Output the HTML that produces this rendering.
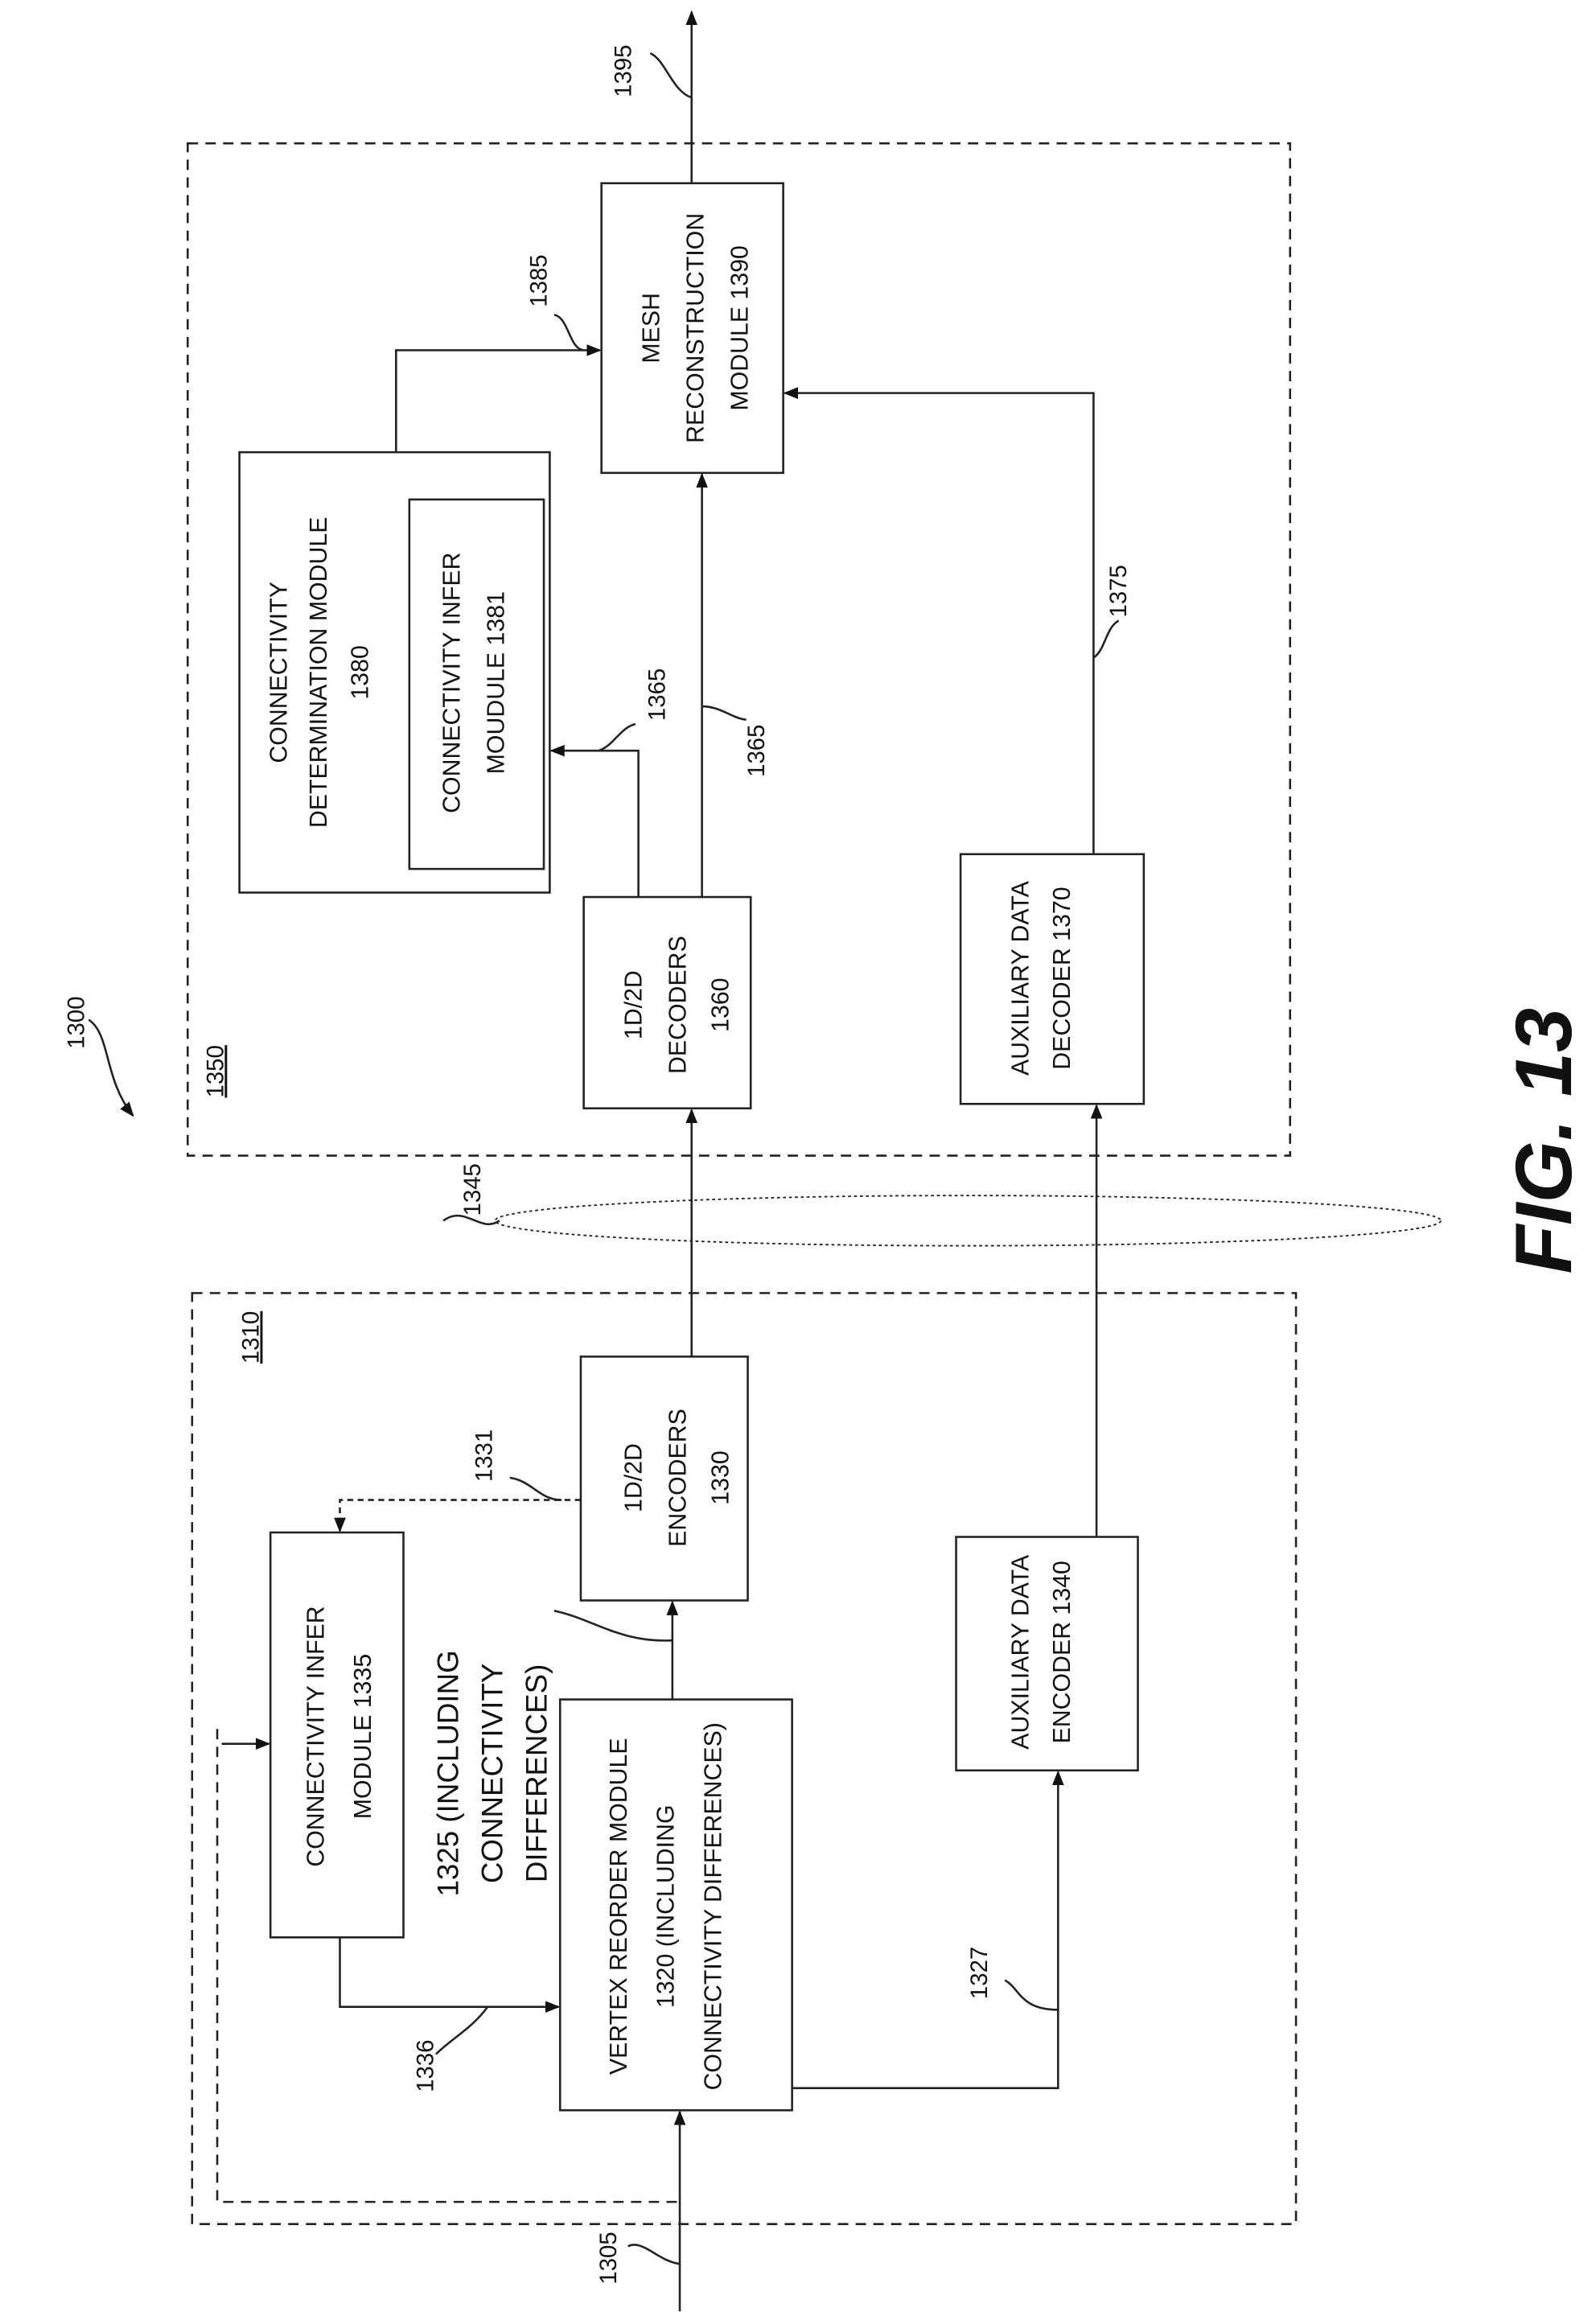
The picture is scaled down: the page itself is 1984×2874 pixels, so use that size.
<!DOCTYPE html>
<html><head><meta charset="utf-8"><style>
html,body{margin:0;padding:0;background:#fff}
svg{display:block}
text{font-family:"Liberation Sans",sans-serif;font-size:16.5px;fill:#111;text-anchor:middle}
text.l{font-size:16px}
</style></head><body>
<svg width="1984" height="2874" viewBox="0 0 1080 1564.5" xmlns="http://www.w3.org/2000/svg">
<defs><marker id="a" markerWidth="10" markerHeight="10" refX="9" refY="5" orient="auto" markerUnits="userSpaceOnUse"><path d="M0,1 L10,5 L0,9 Z" fill="#111"/></marker></defs>
<g fill="none" stroke="#222" stroke-width="1.4">
<rect x="127" y="97" width="746" height="685" stroke-dasharray="7,5"/>
<rect x="130" y="875" width="747" height="630" stroke-dasharray="7,5"/>
<rect x="407" y="124" width="123" height="196"/>
<rect x="162" y="306" width="210" height="298"/>
<rect x="277" y="338" width="91" height="250"/>
<rect x="395" y="607" width="113" height="143"/>
<rect x="650" y="578" width="124" height="169"/>
<rect x="393" y="918" width="113" height="165"/>
<rect x="183" y="1037" width="90" height="274"/>
<rect x="379" y="1150" width="157" height="278"/>
<rect x="647" y="1040" width="123" height="158"/>
<line x1="468" y1="124" x2="468" y2="8" marker-end="url(#a)"/>
<polyline points="268,306 268,237 406,237" marker-end="url(#a)"/>
<line x1="475" y1="607" x2="475" y2="321" marker-end="url(#a)"/>
<polyline points="432,607 432,508 373,508" marker-end="url(#a)"/>
<polyline points="740,578 740,266 531,266" marker-end="url(#a)"/>
<line x1="468" y1="918" x2="468" y2="751" marker-end="url(#a)"/>
<line x1="742" y1="1040" x2="742" y2="748" marker-end="url(#a)"/>
<ellipse cx="655" cy="826" rx="320" ry="17" stroke-dasharray="2,2" stroke-width="1"/>
<line x1="455" y1="1150" x2="455" y2="1084" marker-end="url(#a)"/>
<polyline points="393,1015 230,1015 230,1036" stroke-dasharray="4,3" marker-end="url(#a)"/>
<polyline points="230,1311 230,1358 378,1358" marker-end="url(#a)"/>
<polyline points="536,1413 716,1413 716,1199" marker-end="url(#a)"/>
<line x1="460" y1="1564" x2="460" y2="1429" marker-end="url(#a)"/>
<polyline points="147,1170 147,1490 460,1490" stroke-dasharray="7,5"/>
<line x1="150" y1="1180" x2="182" y2="1180" marker-end="url(#a)"/>
<path d="M440,36 C450,40 455,62 468,66"/>
<path d="M375,213 C385,215 385,236 395,237"/>
<path d="M430,490 C420,492 415,505 405,508"/>
<path d="M505,487 C495,486 488,478 475,478"/>
<path d="M757,420 C748,425 748,440 740,445"/>
<path d="M60,690 C75,700 70,730 90,755" marker-end="url(#a)"/>
<path d="M300,826 C315,815 325,835 338,826"/>
<path d="M345,1000 C360,1002 365,1015 380,1015"/>
<path d="M375,1090 C400,1095 420,1112 455,1110"/>
<path d="M295,1390 C305,1380 320,1372 330,1358"/>
<path d="M680,1340 C690,1345 690,1360 716,1360"/>
<path d="M425,1520 C435,1515 445,1530 460,1532"/>
</g>
<g>
<text transform="translate(440,222) rotate(-90)" dy="6">MESH</text>
<text transform="translate(470,222) rotate(-90)" dy="6">RECONSTRUCTION</text>
<text transform="translate(500,222) rotate(-90)" dy="6">MODULE 1390</text>
<text transform="translate(188,455) rotate(-90)" dy="6">CONNECTIVITY</text>
<text transform="translate(215,455) rotate(-90)" dy="6">DETERMINATION MODULE</text>
<text transform="translate(243,455) rotate(-90)" dy="6">1380</text>
<text transform="translate(305,462) rotate(-90)" dy="6">CONNECTIVITY INFER</text>
<text transform="translate(335,462) rotate(-90)" dy="6">MOUDULE 1381</text>
<text transform="translate(428,680) rotate(-90)" dy="6">1D/2D</text>
<text transform="translate(458,680) rotate(-90)" dy="6">DECODERS</text>
<text transform="translate(487,680) rotate(-90)" dy="6">1360</text>
<text transform="translate(690,662) rotate(-90)" dy="6">AUXILIARY DATA</text>
<text transform="translate(718,662) rotate(-90)" dy="6">DECODER 1370</text>
<text transform="translate(428,1000) rotate(-90)" dy="6">1D/2D</text>
<text transform="translate(458,1000) rotate(-90)" dy="6">ENCODERS</text>
<text transform="translate(487,1000) rotate(-90)" dy="6">1330</text>
<text transform="translate(213,1175) rotate(-90)" dy="6">CONNECTIVITY INFER</text>
<text transform="translate(245,1175) rotate(-90)" dy="6">MODULE 1335</text>
<text style="font-size:20px" transform="translate(303,1200) rotate(-90)" dy="7">1325 (INCLUDING</text>
<text style="font-size:20px" transform="translate(333,1200) rotate(-90)" dy="7">CONNECTIVITY</text>
<text style="font-size:20px" transform="translate(363,1200) rotate(-90)" dy="7">DIFFERENCES)</text>
<text transform="translate(418,1290) rotate(-90)" dy="6">VERTEX REORDER MODULE</text>
<text transform="translate(450,1290) rotate(-90)" dy="6">1320   (INCLUDING</text>
<text transform="translate(482,1290) rotate(-90)" dy="6">CONNECTIVITY DIFFERENCES)</text>
<text transform="translate(690,1118) rotate(-90)" dy="6">AUXILIARY DATA</text>
<text transform="translate(718,1118) rotate(-90)" dy="6">ENCODER 1340</text>
<text class="l" transform="translate(422,48) rotate(-90)" dy="5">1395</text>
<text class="l" transform="translate(365,190) rotate(-90)" dy="5">1385</text>
<text class="l" transform="translate(445,470) rotate(-90)" dy="5">1365</text>
<text class="l" transform="translate(512,508) rotate(-90)" dy="5">1365</text>
<text class="l" transform="translate(757,400) rotate(-90)" dy="5">1375</text>
<text class="l" transform="translate(52,692) rotate(-90)" dy="5">1300</text>
<text class="l" transform="translate(146,725) rotate(-90)" dy="5" text-decoration="underline">1350</text>
<text class="l" transform="translate(170,905) rotate(-90)" dy="5" text-decoration="underline">1310</text>
<text class="l" transform="translate(320,805) rotate(-90)" dy="5">1345</text>
<text class="l" transform="translate(328,985) rotate(-90)" dy="5">1331</text>
<text class="l" transform="translate(288,1398) rotate(-90)" dy="5">1336</text>
<text class="l" transform="translate(663,1335) rotate(-90)" dy="5">1327</text>
<text class="l" transform="translate(412,1528) rotate(-90)" dy="5">1305</text>
<text transform="translate(1045,772) rotate(-90)" dy="18" style="font-size:54px;font-weight:bold;font-style:italic">FIG. 13</text>
</g>
</svg>
</body></html>
